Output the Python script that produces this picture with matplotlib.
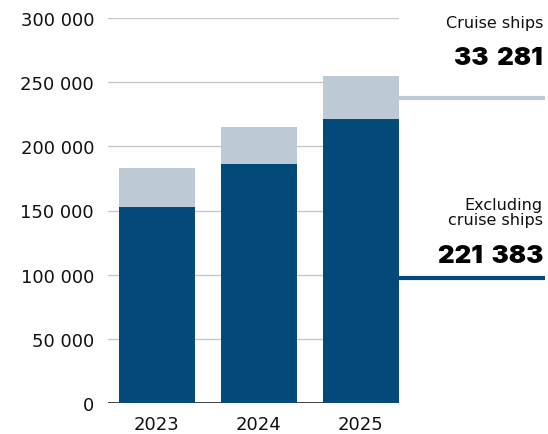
import matplotlib.pyplot as plt
from matplotlib.ticker import FuncFormatter

years = ["2023", "2024", "2025"]
excluding_cruise = [152500, 186000, 221383]
cruise_ships = [30500, 29000, 33281]
y_ticks = [0, 50000, 100000, 150000, 200000, 250000, 300000]

DARK = "#034a7a"
LIGHT = "#bdc9d5"
GRID = "#c8c8c8"

plt.rcParams["font.family"] = ["DejaVu Sans"]


def fmt(v, sep=" "):
    return f"{int(v):,}".replace(",", sep)


W, H = 548, 435
fig = plt.figure(figsize=(W / 100, H / 100), dpi=100)
ax = fig.add_axes([108 / W, (H - 404) / H, (399 - 108) / W, (404 - 19) / H])

x = range(len(years))
ax.bar(x, excluding_cruise, width=0.75, color=DARK, zorder=3)
ax.bar(x, cruise_ships, width=0.75, bottom=excluding_cruise, color=LIGHT, zorder=3)

ax.set_xlim(-0.48, 2.375)
ax.set_ylim(0, 300000)
ax.set_yticks(y_ticks)
ax.yaxis.set_major_formatter(FuncFormatter(lambda v, _: fmt(v)))
ax.set_xticks(list(x))
ax.set_xticklabels(years)
ax.tick_params(axis="both", length=0, labelsize=13, colors="#111111")
ax.tick_params(axis="y", pad=10)
ax.tick_params(axis="x", pad=9)

ax.grid(axis="y", color=GRID, linewidth=1, zorder=0)
for s in ax.spines.values():
    s.set_visible(False)
ax.axhline(0, color="#222222", linewidth=1.2, zorder=2)

# connector lines to the labels on the right
last = len(years) - 1
y_cruise = excluding_cruise[last] + cruise_ships[last] / 2
ax.plot([1.0, 1.5], [y_cruise, y_cruise], transform=ax.get_yaxis_transform(),
        color=LIGHT, linewidth=3, clip_on=False, solid_capstyle="butt")
ax.plot([1.0, 1.5], [97500, 97500], transform=ax.get_yaxis_transform(),
        color=DARK, linewidth=3, clip_on=False, solid_capstyle="butt")

big = dict(ha="right", va="baseline", fontsize=18.5, fontweight="black",
           color="#000000", family=["Inter", "DejaVu Sans"])
rx = 543 / W
fig.text(rx, 1 - 28 / H, "Cruise ships", ha="right", va="baseline", fontsize=11.5, color="#111111")
fig.text(rx, 1 - 65 / H, fmt(cruise_ships[last], "\u2009 "), **big)
fig.text(rx, 1 - 225 / H, "Excluding\ncruise ships", ha="right", va="baseline", fontsize=11.5,
         color="#111111", linespacing=1.0)
fig.text(rx, 1 - 263 / H, fmt(excluding_cruise[last], "\u2009 "), **big)

fig.savefig("out.png", dpi=100)
